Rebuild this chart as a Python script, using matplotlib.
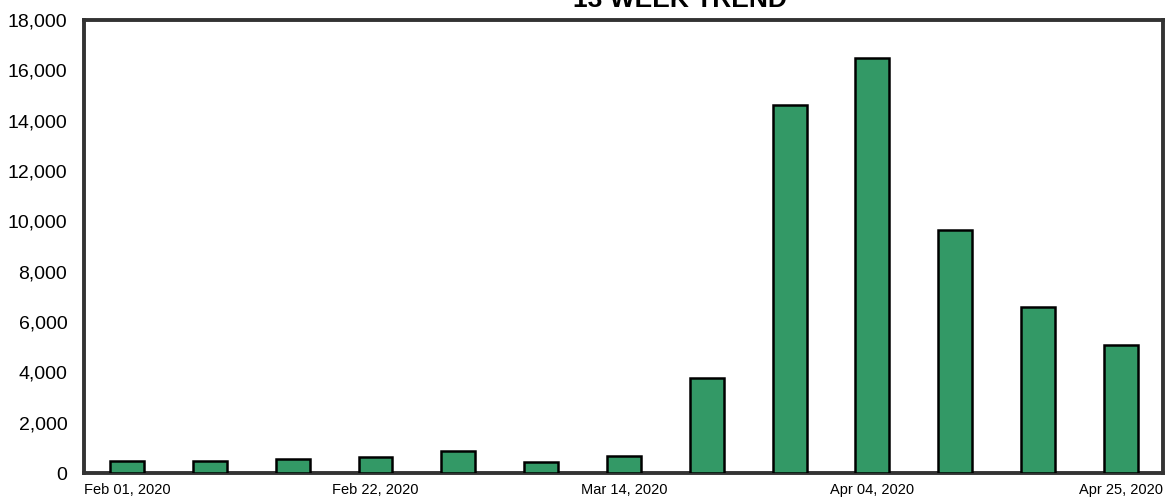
import matplotlib
matplotlib.use("Agg")
import matplotlib.pyplot as plt
from matplotlib.ticker import FuncFormatter

weeks = ["Feb 01, 2020", "Feb 08, 2020", "Feb 15, 2020", "Feb 22, 2020", "Feb 29, 2020",
         "Mar 07, 2020", "Mar 14, 2020", "Mar 21, 2020", "Mar 28, 2020", "Apr 04, 2020",
         "Apr 11, 2020", "Apr 18, 2020", "Apr 25, 2020"]
values = [480, 470, 550, 630, 870, 440, 670, 3780, 14620, 16480, 9650, 6580, 5100]
shown_labels = ["Feb 01, 2020", "Feb 22, 2020", "Mar 14, 2020", "Apr 04, 2020", "Apr 25, 2020"]
title = "13 WEEK TREND"

plt.rcParams['font.family'] = ['Liberation Sans', 'DejaVu Sans']

fig = plt.figure(figsize=(11.67, 4.98), dpi=100)
ax = fig.add_axes([84/1167, 1 - 473/498, (1163 - 84)/1167, (473 - 20)/498])

x = list(range(len(weeks)))
ax.bar(x, values, width=0.41, color="#339966", edgecolor="black", linewidth=1.8, zorder=3)

ax.set_xlim(-0.52, len(weeks) - 1 + 0.51)
ax.set_ylim(0, 18000)
ax.set_yticks(range(0, 18001, 2000))
ax.yaxis.set_major_formatter(FuncFormatter(lambda v, p: f"{int(v):,}"))
ticks = [i for i, w in enumerate(weeks) if w in shown_labels]
ax.set_xticks(ticks)
ax.set_xticklabels([weeks[i] for i in ticks])
ax.tick_params(axis='y', length=0, labelsize=14, pad=12)
ax.tick_params(axis='x', length=0, labelsize=10.5, pad=7)

for s in ax.spines.values():
    s.set_linewidth(2.8)
    s.set_color("#333333")

fig.text(680/1167, 1 - 7/498, title, ha="center", va="baseline",
         fontsize=19, fontweight="bold")

fig.savefig("out.png", dpi=100)
